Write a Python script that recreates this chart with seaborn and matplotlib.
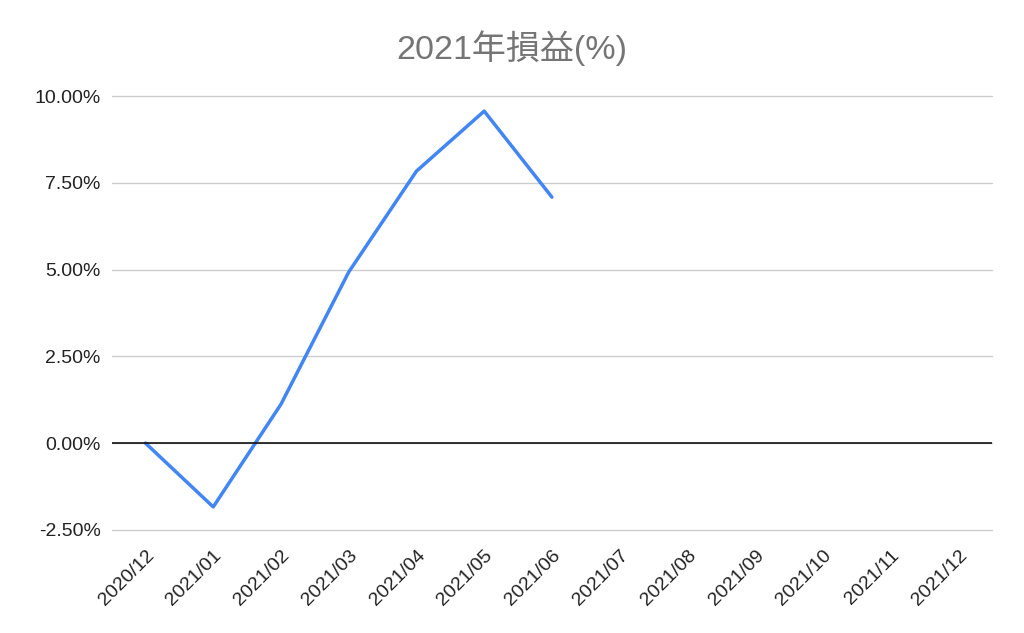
import numpy as np
import pandas as pd
import matplotlib
matplotlib.use('Agg')
import matplotlib.pyplot as plt
import seaborn as sns
from matplotlib.ticker import FuncFormatter

# データ
months = ['2020/12', '2021/01', '2021/02', '2021/03', '2021/04', '2021/05', '2021/06',
          '2021/07', '2021/08', '2021/09', '2021/10', '2021/11', '2021/12']
profit = [0.0, -1.84, 1.12, 4.93, 7.84, 9.57, 7.09,
          np.nan, np.nan, np.nan, np.nan, np.nan, np.nan]

df = pd.DataFrame({'month': months, 'profit': profit, 'idx': range(len(months))})

sns.set_style('white')
plt.rcParams['font.family'] = ['Liberation Sans', 'Noto Sans CJK JP', 'DejaVu Sans']

fig = plt.figure(figsize=(10.24, 6.33), dpi=100)
ax = fig.add_axes([0.109, 0.163, 0.860, 0.685])

sns.lineplot(data=df.dropna(), x='idx', y='profit', color='#4285F4', linewidth=2.5, ax=ax)

ax.set_xlim(-0.5, len(months) - 0.5)
ax.set_ylim(-2.5, 10)
ax.set_yticks([-2.5, 0, 2.5, 5, 7.5, 10])
ax.yaxis.set_major_formatter(FuncFormatter(lambda v, p: f'{v:.2f}%'))
ax.set_xticks(range(len(months)))
ax.set_xticklabels(months, rotation=45, ha='right', rotation_mode='anchor')
ax.tick_params(axis='both', length=0, labelsize=14, colors='#222222', pad=8)
ax.tick_params(axis='x', pad=12)

ax.grid(axis='y', color='#cccccc', linewidth=1)
for gl in ax.get_ygridlines():
    gl.set_clip_on(False)
ax.axhline(0, color='#111111', linewidth=1.2)
for s in ax.spines.values():
    s.set_visible(False)
ax.set_xlabel('')
ax.set_ylabel('')

fig.suptitle('2021年損益(%)', fontsize=24.5, color='#757575', y=0.952)

fig.savefig('out.png', dpi=100)
